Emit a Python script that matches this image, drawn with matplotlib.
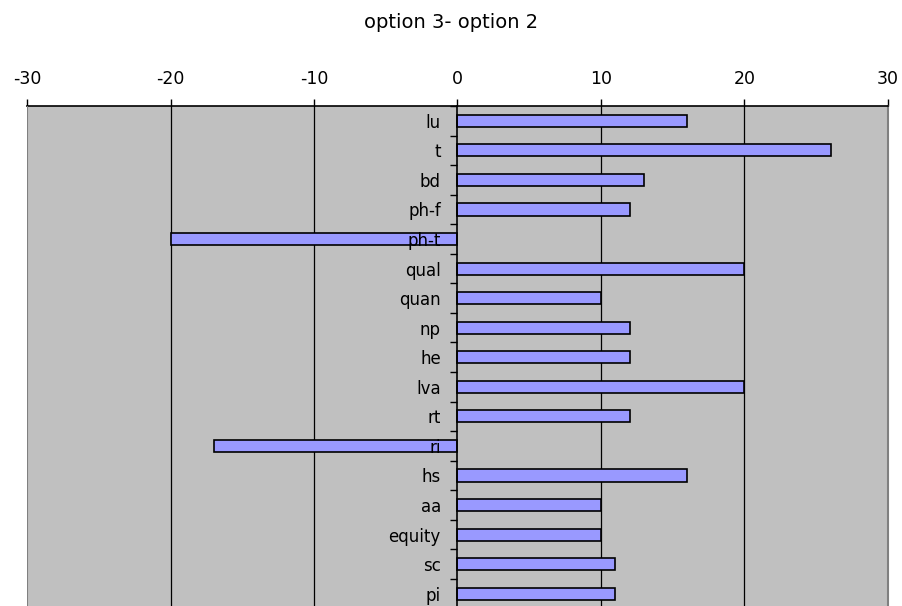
import matplotlib
matplotlib.use("Agg")
import matplotlib.pyplot as plt
import numpy as np

categories = ["lu", "t", "bd", "ph-f", "ph-t", "qual", "quan", "np", "he",
              "lva", "rt", "ri", "hs", "aa", "equity", "sc", "pi"]
values = [16, 26, 13, 12, -20, 20, 10, 12, 12, 20, 12, -17, 16, 10, 10, 11, 11]
x_ticks = [-30, -20, -10, 0, 10, 20, 30]
title = "option 3- option 2"

plt.rcParams["font.family"] = ["DejaVu Sans"]

W, H = 903, 606
fig = plt.figure(figsize=(W / 100, H / 100), dpi=100)
left, right, top, bottom = 27 / W, 888 / W, 106 / H, 608.5 / H
ax = fig.add_axes([left, 1 - bottom, right - left, bottom - top])
ax.set_facecolor("#c0c0c0")

n = len(categories)
y = np.arange(n)
ax.barh(y, values, height=0.41, color="#9999ff", edgecolor="black",
        linewidth=1.2, zorder=1)

ax.set_xlim(-30, 30)
ax.set_ylim(n - 0.5, -0.5)

# vertical gridlines
for v in x_ticks[1:-1]:
    if v != 0:
        ax.axvline(v, color="black", linewidth=0.9, zorder=0.5)

# x axis on top
ax.xaxis.set_ticks_position("top")
ax.xaxis.set_label_position("top")
ax.set_xticks(x_ticks)
ax.set_xticklabels([str(v) for v in x_ticks])
ax.tick_params(axis="x", direction="out", length=5, width=1, pad=8,
               labelsize=12.5, colors="black")

# category axis at zero
ax.spines["left"].set_position(("data", 0))
ax.spines["left"].set_linewidth(1.2)
ax.spines["left"].set_color("black")
ax.spines["top"].set_linewidth(1.2)
ax.spines["top"].set_color("black")
ax.spines["bottom"].set_visible(False)
ax.spines["right"].set_color("#808080")
ax.spines["right"].set_linewidth(1.5)
ax.axvline(-30, color="#808080", linewidth=1.5, zorder=3)

ax.set_yticks(y)
ax.set_yticklabels(categories)
ax.set_yticks(np.arange(n + 1) - 0.5, minor=True)
ax.tick_params(axis="y", which="major", length=0, pad=12, labelsize=12)
ax.tick_params(axis="y", which="minor", direction="out", length=5, width=1)

fig.text(0.5, 1 - 22 / H, title, ha="center", va="center", fontsize=14)

fig.savefig("out.png", dpi=100)
